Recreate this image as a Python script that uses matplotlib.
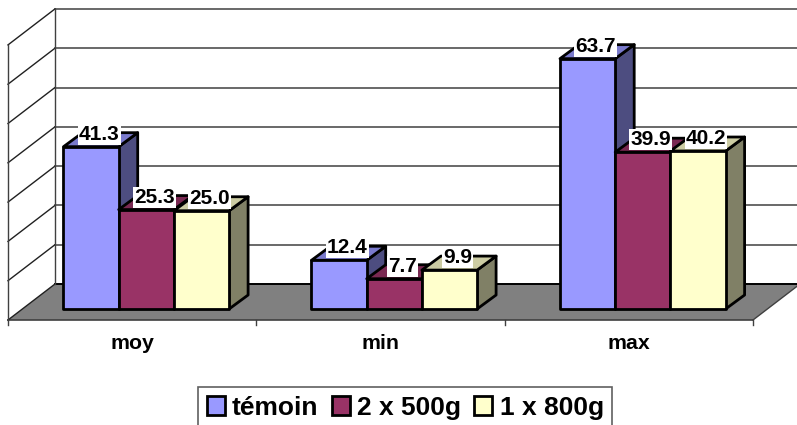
import matplotlib
matplotlib.use('Agg')
import matplotlib.pyplot as plt
from matplotlib.patches import Polygon, Patch

categories = ['moy', 'min', 'max']
series = ['témoin', '2 x 500g', '1 x 800g']
temoin = [41.3, 12.4, 63.7]
x500 = [25.3, 7.7, 39.9]
x800 = [25.0, 9.9, 40.2]
grid_values = [0, 10, 20, 30, 40, 50, 60, 70]

front_cols = ['#9999FF', '#993366', '#FFFFCC']
top_cols = ['#7A7ACC', '#7A2952', '#CCCCA3']
side_cols = ['#4D4D80', '#4D1A33', '#808066']

plt.rcParams['font.family'] = ['Liberation Sans', 'DejaVu Sans']
plt.rcParams['font.weight'] = 'bold'

fig = plt.figure(figsize=(7.97, 4.25), dpi=100)
ax = fig.add_axes([0, 0, 1, 1])
# axes in pixels, y down, the 3d look is done by hand
ax.set_xlim(0, 797)
ax.set_ylim(425, 0)
ax.axis('off')

wall_x, wall_y = 55, 284      # back wall, value 0
front_x, front_y = 8, 320     # front edge of floor
right_x = 753
base_y = 309                  # front bottom of bars
unit = 3.93                   # pixels per value unit
dx, dy = 19, -14              # bar depth
bar_w = 55.2
group_x = [63.5, 311.5, 560]


def back_y(v):
    return wall_y - v * unit


# floor
ax.add_patch(Polygon([(front_x, front_y), (wall_x, wall_y), (800, wall_y), (right_x, front_y)],
                     facecolor='#808080', edgecolor='none', zorder=1))
ax.plot([front_x, right_x], [front_y, front_y], color='#404040', lw=1.2, zorder=2)
ax.plot([right_x, 800], [front_y, wall_y], color='#404040', lw=1, zorder=2)
ax.plot([wall_x, 797], [wall_y, wall_y], color='black', lw=1.4, zorder=2)

# walls and grid
for v in grid_values:
    y = back_y(v)
    if v > 0:
        ax.plot([wall_x, 797], [y, y], color='#404040', lw=1.1, zorder=2)
    ax.plot([front_x, wall_x], [y + front_y - wall_y, y], color='#202020', lw=1, zorder=2)
top = back_y(grid_values[-1])
ax.plot([wall_x, wall_x], [top, wall_y], color='#404040', lw=1, zorder=2)
ax.plot([front_x, front_x], [top + front_y - wall_y, front_y], color='#404040', lw=1, zorder=2)

# ticks
step = (right_x - front_x) / len(categories)
for i in range(len(categories) + 1):
    x = front_x + i * step
    ax.plot([x, x], [front_y, front_y + 5], color='#404040', lw=1, zorder=2)

# bars
all_vals = [temoin, x500, x800]
for g, gx in enumerate(group_x):
    for s in range(3):
        v = all_vals[s][g]
        x0 = gx + s * bar_w
        x1 = x0 + bar_w
        yt = base_y - v * unit
        ax.add_patch(Polygon([(x1, base_y), (x1 + dx, base_y + dy), (x1 + dx, yt + dy), (x1, yt)],
                             facecolor=side_cols[s], edgecolor='black', lw=2, joinstyle='round', zorder=3))
        ax.add_patch(Polygon([(x0, yt), (x0 + dx, yt + dy), (x1 + dx, yt + dy), (x1, yt)],
                             facecolor=top_cols[s], edgecolor='black', lw=2, joinstyle='round', zorder=3))
        ax.add_patch(Polygon([(x0, base_y), (x0, yt), (x1, yt), (x1, base_y)],
                             facecolor=front_cols[s], edgecolor='black', lw=2, joinstyle='round', zorder=3))

# value labels on top of everything
for g, gx in enumerate(group_x):
    for s in range(3):
        v = all_vals[s][g]
        x0 = gx + s * bar_w
        yt = base_y - v * unit
        ax.text(x0 + bar_w / 2 + 8, yt - 7, '%.1f' % v, fontsize=15, fontweight='bold',
                ha='center', va='baseline', zorder=5,
                bbox=dict(facecolor='white', edgecolor='none', pad=0.8))

# category labels
for i, c in enumerate(categories):
    ax.text(front_x + (i + 0.5) * step, 349, c, fontsize=15.3, fontweight='bold',
            ha='center', va='baseline', zorder=5)

handles = [Patch(facecolor=front_cols[i], edgecolor='black', lw=2) for i in range(3)]
leg = ax.legend(handles, series, ncol=3, loc='upper left', bbox_to_anchor=(198 / 797, 1 - 387 / 425),
                prop={'size': 19, 'weight': 'bold'}, fancybox=False, framealpha=1,
                edgecolor='#606060', borderaxespad=0, borderpad=0.33,
                handlelength=0.68, handleheight=0.68, handletextpad=0.28, columnspacing=0.5)
leg.get_frame().set_linewidth(1.2)

fig.savefig('out.png', dpi=100)
plt.close()
